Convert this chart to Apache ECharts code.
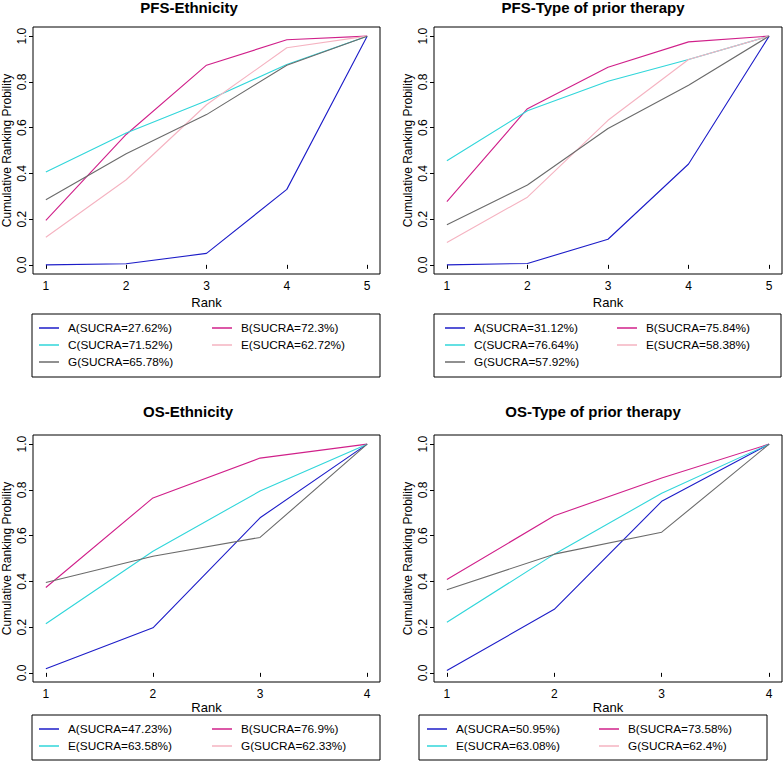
<!DOCTYPE html>
<html>
<head>
<meta charset="utf-8">
<script src="https://cdn.jsdelivr.net/npm/echarts@6/dist/echarts.min.js"></script>
<style>
html,body{margin:0;padding:0;background:#fff;}
#chart{width:783px;height:761px;}
</style>
</head>
<body>
<div id="chart"></div>
<script>
// ---- data ----
const ranks5 = [1, 2, 3, 4, 5];
const ranks4 = [1, 2, 3, 4];
const yTicks = [0, 0.2, 0.4, 0.6, 0.8, 1.0];

const titles = ['PFS-Ethnicity', 'PFS-Type of prior therapy', 'OS-Ethnicity', 'OS-Type of prior therapy'];

// PFS - Ethnicity
const pfsEthNames = ['A(SUCRA=27.62%)', 'B(SUCRA=72.3%)', 'C(SUCRA=71.52%)', 'E(SUCRA=62.72%)', 'G(SUCRA=65.78%)'];
const pfsEthA = [0.000, 0.005, 0.050, 0.330, 1.000];
const pfsEthB = [0.194, 0.570, 0.873, 0.984, 1.000];
const pfsEthC = [0.406, 0.577, 0.718, 0.876, 1.000];
const pfsEthE = [0.121, 0.372, 0.700, 0.949, 1.000];
const pfsEthG = [0.285, 0.486, 0.657, 0.873, 1.000];

// PFS - Type of prior therapy
const pfsTypNames = ['A(SUCRA=31.12%)', 'B(SUCRA=75.84%)', 'C(SUCRA=76.64%)', 'E(SUCRA=58.38%)', 'G(SUCRA=57.92%)'];
const pfsTypA = [0.000, 0.006, 0.112, 0.441, 1.000];
const pfsTypB = [0.276, 0.683, 0.864, 0.975, 1.000];
const pfsTypC = [0.455, 0.674, 0.803, 0.898, 1.000];
const pfsTypE = [0.098, 0.296, 0.632, 0.898, 1.000];
const pfsTypG = [0.175, 0.349, 0.596, 0.785, 1.000];

// OS - Ethnicity
const osEthNames = ['A(SUCRA=47.23%)', 'B(SUCRA=76.9%)', 'E(SUCRA=63.58%)', 'G(SUCRA=62.33%)'];
const osEthA = [0.018, 0.197, 0.678, 1.000];
const osEthB = [0.373, 0.765, 0.939, 1.000];
const osEthE = [0.215, 0.532, 0.795, 1.000];
const osEthG = [0.395, 0.510, 0.592, 1.000];

// OS - Type of prior therapy
const osTypNames = ['A(SUCRA=50.95%)', 'B(SUCRA=73.58%)', 'E(SUCRA=63.08%)', 'G(SUCRA=62.4%)'];
const osTypA = [0.010, 0.278, 0.750, 1.000];
const osTypB = [0.408, 0.687, 0.852, 1.000];
const osTypE = [0.221, 0.519, 0.785, 1.000];
const osTypG = [0.363, 0.519, 0.615, 1.000];

// ---- styles ----
// palette slots in plotting order (1st..5th line)
const PAL = ['#1c1cc8', '#d0208a', '#30d6da', '#f5b3c1', '#6b6b6b'];
const FONT = 'Liberation Sans, Arial, Helvetica, sans-serif';

const panels = [
  {title: titles[0], ranks: ranks5, names: pfsEthNames,
   data: [pfsEthA, pfsEthB, pfsEthC, pfsEthE, pfsEthG],
   lineCol: [0, 1, 2, 3, 4], legCol: [0, 1, 2, 3, 4],
   grid: {left: 32, top: 27, width: 348, height: 247}, titleX: 189, titleY: 0, xNameGap: 22,
   box: [32, 314, 348, 63], col1: 39, col2: 212, legTop: 319.5},
  {title: titles[1], ranks: ranks5, names: pfsTypNames,
   data: [pfsTypA, pfsTypB, pfsTypC, pfsTypE, pfsTypG],
   lineCol: [0, 1, 2, 3, 4], legCol: [0, 1, 2, 3, 4],
   grid: {left: 434, top: 27, width: 348, height: 247}, titleX: 593, titleY: 0, xNameGap: 22,
   box: [434, 314, 347, 63], col1: 445, col2: 617, legTop: 319.5},
  {title: titles[2], ranks: ranks4, names: osEthNames,
   data: [osEthA, osEthB, osEthE, osEthG],
   lineCol: [0, 1, 2, 4], legCol: [0, 1, 2, 3],
   grid: {left: 32, top: 435, width: 348, height: 247}, titleX: 188, titleY: 404, xNameGap: 15,
   box: [32, 715, 348, 45], col1: 39, col2: 212, legTop: 720.5},
  {title: titles[3], ranks: ranks4, names: osTypNames,
   data: [osTypA, osTypB, osTypE, osTypG],
   lineCol: [0, 1, 2, 4], legCol: [0, 1, 2, 3],
   grid: {left: 434, top: 435, width: 348, height: 247}, titleX: 593, titleY: 404, xNameGap: 15,
   box: [419, 715, 348, 45], col1: 427, col2: 599, legTop: 720.5}
];

const option = {
  animation: false,
  backgroundColor: '#fff',
  title: [], grid: [], xAxis: [], yAxis: [], series: [], legend: [], graphic: []
};

panels.forEach((p, i) => {
  option.title.push({
    text: p.title, left: p.titleX, top: p.titleY, textAlign: 'center', padding: 0,
    textStyle: {fontFamily: FONT, fontSize: 15, fontWeight: 'bold', color: '#000'}
  });
  option.grid.push(Object.assign({show: true, borderColor: '#000', borderWidth: 1,
    backgroundColor: 'transparent', containLabel: false}, p.grid));
  const n = p.ranks.length;
  const pad = (n - 1) * 0.04;
  option.xAxis.push({
    type: 'value', gridIndex: i, min: 1 - pad, max: n + pad,
    name: 'Rank', nameLocation: 'middle', nameGap: p.xNameGap,
    nameTextStyle: {fontFamily: FONT, fontSize: 13, color: '#000'},
    axisLine: {show: false},
    axisTick: {show: true, customValues: p.ranks, length: 4, lineStyle: {color: '#000', width: 1}},
    axisLabel: {customValues: p.ranks, fontFamily: FONT, fontSize: 12, color: '#000', margin: 6},
    splitLine: {show: false}
  });
  option.yAxis.push({
    type: 'value', gridIndex: i, min: -0.04, max: 1.04,
    name: 'Cumulative Ranking Probility', nameLocation: 'middle', nameGap: 20, nameRotate: 90,
    nameTextStyle: {fontFamily: FONT, fontSize: 12, color: '#000'},
    axisLine: {show: false},
    axisTick: {show: true, customValues: yTicks, length: 4, lineStyle: {color: '#000', width: 1}},
    axisLabel: {customValues: yTicks, rotate: 90, fontFamily: FONT, fontSize: 12, color: '#000', margin: 5,
      formatter: v => Number(v).toFixed(1)},
    splitLine: {show: false}
  });
  p.names.forEach((nm, j) => {
    const c = PAL[p.lineCol[j]];
    option.series.push({
      type: 'line', name: nm, xAxisIndex: i, yAxisIndex: i,
      data: p.ranks.map((r, m) => [r, p.data[j][m]]),
      showSymbol: false, symbol: 'none',
      lineStyle: {color: c, width: 1.1},
      itemStyle: {color: c},
      z: 2
    });
  });
  // legend: two columns (left column: items 0,2,4 ; right column: items 1,3)
  const items = p.names.map((nm, j) => ({name: nm, itemStyle: {color: PAL[p.legCol[j]]}}));
  const colA = items.filter((_, j) => j % 2 === 0);
  const colB = items.filter((_, j) => j % 2 === 1);
  [[colA, p.col1], [colB, p.col2]].forEach(([arr, x]) => {
    option.legend.push({
      data: arr, orient: 'vertical', left: x, top: p.legTop, padding: 0,
      itemGap: 0, itemWidth: 20, itemHeight: 1.5, icon: 'rect',
      selectedMode: false,
      textStyle: {fontFamily: FONT, fontSize: 11.8, color: '#000', lineHeight: 17, padding: [0, 0, 0, 4]}
    });
  });
  option.graphic.push({
    type: 'rect', silent: true,
    shape: {x: p.box[0], y: p.box[1], width: p.box[2], height: p.box[3]},
    style: {fill: 'none', stroke: '#000', lineWidth: 1}
  });
});

const chart = echarts.init(document.getElementById('chart'), null, {renderer: 'svg'});
chart.setOption(option);
</script>
</body>
</html>
